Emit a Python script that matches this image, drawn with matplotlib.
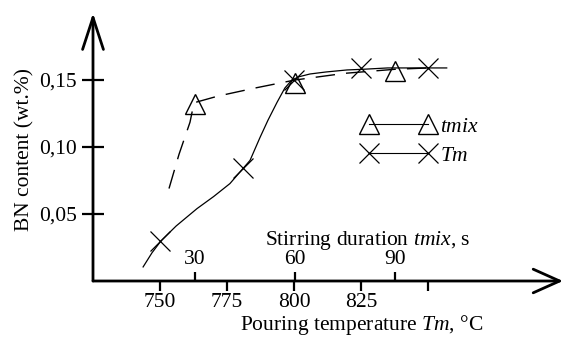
import numpy as np
import matplotlib
matplotlib.use("Agg")
import matplotlib.pyplot as plt
from matplotlib.lines import Line2D

plt.rcParams['font.family'] = ['Liberation Serif', 'DejaVu Serif']
plt.rcParams['mathtext.fontset'] = 'custom'
plt.rcParams['mathtext.rm'] = 'Liberation Serif'
plt.rcParams['mathtext.it'] = 'Liberation Serif:italic'
plt.rcParams['font.size'] = 15.5

# pouring temperature series (markers) and its smooth curve
Tm_pts = [750, 781, 800, 825, 850]
Tm_bn = [0.030, 0.084, 0.150, 0.159, 0.159]
Tm_curve_x = [743.7, 747, 750.4, 756, 763.8, 770, 776.1, 781, 783.6, 787.3, 790.3,
              793.7, 796.6, 799.2, 802, 806, 812, 819.8, 825.7, 835, 850, 857]
Tm_curve_y = [0.0105, 0.021, 0.030, 0.041, 0.054, 0.063, 0.0727, 0.084, 0.090, 0.107, 0.120,
              0.1334, 0.144, 0.150, 0.1525, 0.1545, 0.156, 0.1575, 0.158, 0.159, 0.159, 0.159]

# stirring duration series (markers) and its dashed curve
tmix_pts = [30, 60, 90]
tmix_bn = [0.132, 0.148, 0.157]
tmix_curve_x = [22.2, 25.2, 28.5, 29.7, 36.9, 48, 60, 75, 90, 100]
tmix_curve_y = [0.069, 0.0945, 0.1185, 0.133, 0.138, 0.144, 0.150, 0.155, 0.158, 0.159]

T_ticks = [750, 775, 800, 825, 850]
T_labels = ['750', '775', '800', '825', '']
tmix_ticks = [30, 60, 90]
bn_ticks = [0.05, 0.10, 0.15]
bn_labels = ['0,05', '0,10', '0,15']

fig = plt.figure(figsize=(5.64, 3.38), dpi=100)
ax = fig.add_axes([93/564, 57/338, 470/564, 268/338])
ax.set_xlim(725, 900.4)
ax.set_ylim(0, 0.2)
ax.patch.set_visible(False)

ax2 = ax.twiny()
ax2.set_xlim(-0.6, 140.4)
ax2.patch.set_visible(False)

for a in (ax, ax2):
    for s in a.spines.values():
        s.set_visible(False)

# main curves
ax.plot(Tm_curve_x, Tm_curve_y, color='k', lw=0.9)
ax.plot(Tm_pts, Tm_bn, ls='none', marker='x', ms=15, mew=0.9, color='k')
ax2.plot(tmix_curve_x, tmix_curve_y, color='k', lw=1.0, dashes=(14, 8))
ax2.plot(tmix_pts, tmix_bn, ls='none', marker='^', ms=15, mew=1.0, mfc='none', color='k')

# axes with arrows
ax.annotate('', xy=(0, 1), xytext=(0, 0), xycoords='axes fraction',
            arrowprops=dict(arrowstyle='->,head_length=2.3,head_width=0.75',
                            lw=2, color='k', shrinkA=0, shrinkB=0, mutation_scale=10))
ax.annotate('', xy=(1, 0), xytext=(0, 0), xycoords='axes fraction',
            arrowprops=dict(arrowstyle='->,head_length=1.9,head_width=0.85',
                            lw=2, color='k', shrinkA=0, shrinkB=0, mutation_scale=10))

ax.set_yticks(bn_ticks)
ax.set_yticklabels(bn_labels)
ax.tick_params(axis='y', direction='inout', length=16, width=1.6, pad=3.4)
ax.set_xticks(T_ticks)
ax.set_xticklabels(T_labels)
ax.tick_params(axis='x', direction='out', length=7, width=1.6, pad=1.5)

ax2.spines['top'].set_position(('axes', 0))
ax2.set_xticks(tmix_ticks)
ax2.tick_params(axis='x', direction='out', length=6.5, width=1.6, pad=2.0)

ax.set_ylabel('BN content (wt.%)')
ax.yaxis.set_label_coords(-0.125, 0.49)
ax.set_xlabel('Pouring temperature $Tm$, °C')
ax.xaxis.set_label_coords(0.572, -0.12)
ax2.set_xlabel('Stirring duration $tmix$, s')
ax2.xaxis.set_label_coords(0.585, 0.135)

handles = [Line2D([], [], color='k', lw=0.8, marker='^', ms=15, mfc='none', mew=1.0),
           Line2D([], [], color='k', lw=0.8, marker='x', ms=15, mew=0.9)]
ax.legend(handles, ['$tmix$', '$Tm$'], loc='center left', bbox_to_anchor=(0.573, 0.522),
          frameon=False, numpoints=2, handlelength=3.35, handletextpad=0.28,
          borderpad=0, borderaxespad=0, labelspacing=0.42)

fig.savefig('out.png', dpi=100)
